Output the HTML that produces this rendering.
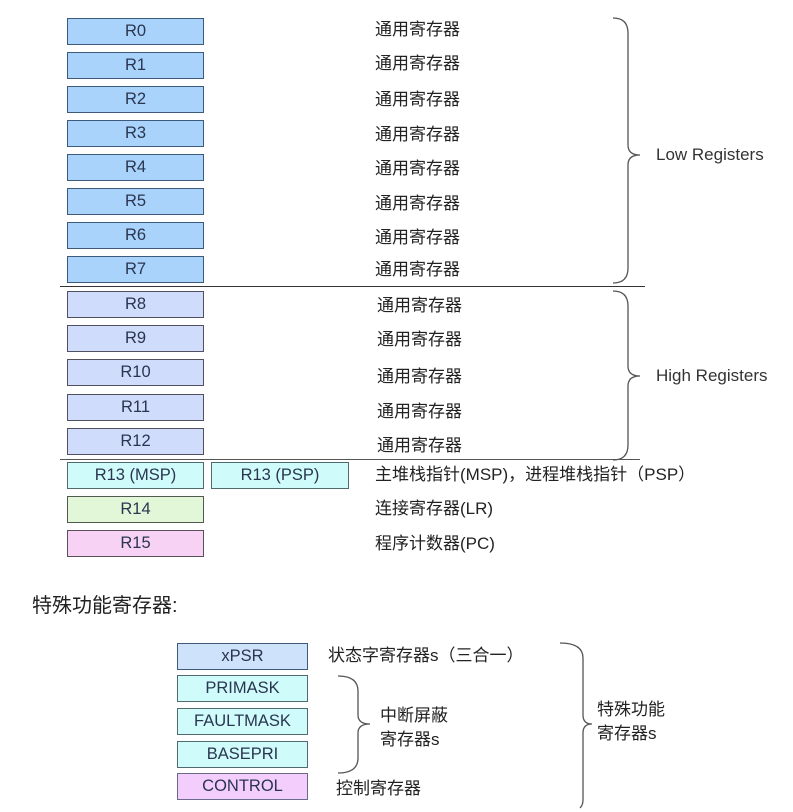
<!DOCTYPE html>
<html><head><meta charset="utf-8"><style>
body{margin:0;width:793px;height:812px;background:#fff;position:relative;overflow:hidden;font-family:"Liberation Sans","Noto Sans CJK SC",sans-serif;}
.b{position:absolute;width:137px;height:27px;border:1px solid #3d5a7a;box-sizing:border-box;text-align:center;line-height:25px;font-size:16.5px;color:#2a3550;}
.lo{background:#a9d3fb;}
.hi{background:#cfdcfb;border-color:#505060;}
.cy{background:#cffcfb;border-color:#506a70;}
.t{position:absolute;font-size:17px;line-height:20px;color:#222;white-space:nowrap;}
</style></head><body>
<div class="b lo" style="left:67px;top:18px">R0</div>
<div class="b lo" style="left:67px;top:52px">R1</div>
<div class="b lo" style="left:67px;top:86px">R2</div>
<div class="b lo" style="left:67px;top:120px">R3</div>
<div class="b lo" style="left:67px;top:154px">R4</div>
<div class="b lo" style="left:67px;top:188px">R5</div>
<div class="b lo" style="left:67px;top:222px">R6</div>
<div class="b lo" style="left:67px;top:256px">R7</div>
<div class="b hi" style="left:67px;top:291px">R8</div>
<div class="b hi" style="left:67px;top:325px">R9</div>
<div class="b hi" style="left:67px;top:359px">R10</div>
<div class="b hi" style="left:67px;top:394px">R11</div>
<div class="b hi" style="left:67px;top:428px">R12</div>
<div class="b cy" style="left:67px;top:462px">R13 (MSP)</div>
<div class="b cy" style="left:211px;top:462px;width:138px">R13 (PSP)</div>
<div class="b" style="left:67px;top:496px;background:#e2f7d8;border-color:#505a50">R14</div>
<div class="b" style="left:67px;top:530px;background:#f8d2f5;border-color:#5a505a">R15</div>
<div style="position:absolute;left:60px;top:286px;width:585px;height:1px;background:#333"></div>
<div style="position:absolute;left:60px;top:459px;width:580px;height:1px;background:#555"></div>
<div class="t" style="left:375px;top:20px">通用寄存器</div>
<div class="t" style="left:375px;top:54px">通用寄存器</div>
<div class="t" style="left:375px;top:90px">通用寄存器</div>
<div class="t" style="left:375px;top:125px">通用寄存器</div>
<div class="t" style="left:375px;top:159px">通用寄存器</div>
<div class="t" style="left:375px;top:194px">通用寄存器</div>
<div class="t" style="left:375px;top:228px">通用寄存器</div>
<div class="t" style="left:375px;top:260px">通用寄存器</div>
<div class="t" style="left:377px;top:296px">通用寄存器</div>
<div class="t" style="left:377px;top:330px">通用寄存器</div>
<div class="t" style="left:377px;top:367px">通用寄存器</div>
<div class="t" style="left:377px;top:402px">通用寄存器</div>
<div class="t" style="left:377px;top:436px">通用寄存器</div>
<div class="t" style="left:375px;top:465px">主堆栈指针(MSP)，进程堆栈指针（PSP）</div>
<div class="t" style="left:375px;top:499px">连接寄存器(LR)</div>
<div class="t" style="left:375px;top:534px">程序计数器(PC)</div>
<div class="t" style="left:656px;top:145px;color:#333">Low Registers</div>
<div class="t" style="left:656px;top:366px;color:#333">High Registers</div>
<div class="t" style="left:32px;top:594px;font-size:20px;line-height:24px">特殊功能寄存器:</div>
<div class="b" style="left:177px;top:643px;width:131px;background:#cfe2fb">xPSR</div>
<div class="b cy" style="left:177px;top:675px;width:131px">PRIMASK</div>
<div class="b cy" style="left:177px;top:708px;width:131px">FAULTMASK</div>
<div class="b cy" style="left:177px;top:741px;width:131px">BASEPRI</div>
<div class="b" style="left:177px;top:773px;width:131px;background:#f3cdfb;border-color:#6a6a8a">CONTROL</div>
<div class="t" style="left:328px;top:646px">状态字寄存器s（三合一）</div>
<div class="t" style="left:380px;top:704px;line-height:24px">中断屏蔽<br>寄存器s</div>
<div class="t" style="left:336px;top:779px">控制寄存器</div>
<div class="t" style="left:597px;top:698px;line-height:24px">特殊功能<br>寄存器s</div>
<svg width="793" height="812" style="position:absolute;left:0;top:0" fill="none" stroke="#555" stroke-width="1.3">
<path d="M613 18 Q628 18 628 33 L628 145 Q628 155 640 155 Q628 155 628 165 L628 268 Q628 283 613 283"/>
<path d="M613 291 Q628 291 628 306 L628 366 Q628 376 640 376 Q628 376 628 386 L628 445 Q628 460 613 460"/>
<path d="M338 676 Q358 676 358 691 L358 715 Q358 724 370 724 Q358 724 358 733 L358 758 Q358 773 338 773"/>
<path d="M560 643 Q583 643 583 658 L583 715 Q583 724 592 724 Q583 724 583 733 L583 800 Q583 805 580 808"/>
</svg>
</body></html>
